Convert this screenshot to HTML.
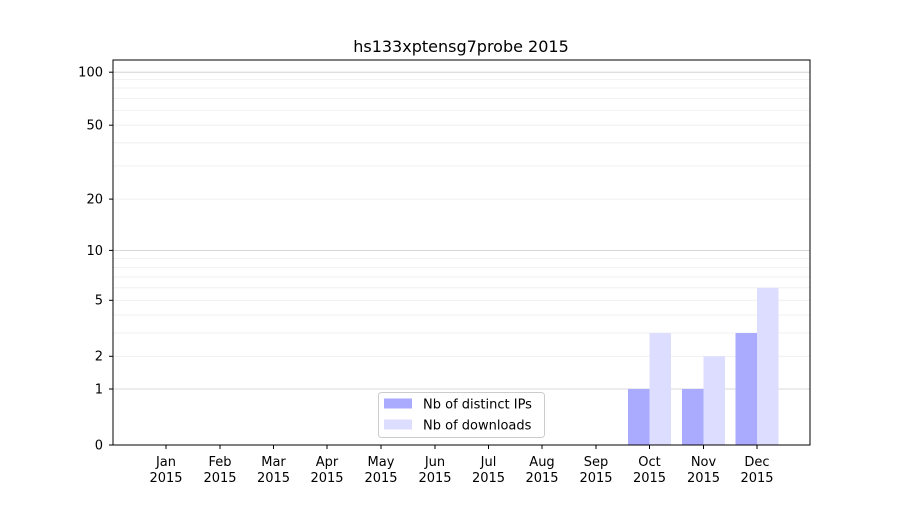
<!DOCTYPE html>
<html><head><meta charset="utf-8"><style>body{margin:0;background:#fff}</style></head><body>
<svg width="900" height="500" xmlns="http://www.w3.org/2000/svg" font-family="DejaVu Sans, Liberation Sans, sans-serif">
<rect width="900" height="500" fill="#fff"/>
<g id="grid" stroke-width="0.8">
<line x1="113" x2="810" y1="389" y2="389" stroke="#cccccc"/>
<line x1="113" x2="810" y1="250.4" y2="250.4" stroke="#cccccc"/>
<line x1="113" x2="810" y1="72.2" y2="72.2" stroke="#cccccc"/>
<g stroke="#eeeeee">
<line x1="113" x2="810" y1="356.3" y2="356.3"/>
<line x1="113" x2="810" y1="333" y2="333"/>
<line x1="113" x2="810" y1="315" y2="315"/>
<line x1="113" x2="810" y1="300.3" y2="300.3"/>
<line x1="113" x2="810" y1="287.8" y2="287.8"/>
<line x1="113" x2="810" y1="277" y2="277"/>
<line x1="113" x2="810" y1="267.5" y2="267.5"/>
<line x1="113" x2="810" y1="258.6" y2="258.6"/>
<line x1="113" x2="810" y1="199.1" y2="199.1"/>
<line x1="113" x2="810" y1="165.9" y2="165.9"/>
<line x1="113" x2="810" y1="142.8" y2="142.8"/>
<line x1="113" x2="810" y1="125.2" y2="125.2"/>
<line x1="113" x2="810" y1="110.6" y2="110.6"/>
<line x1="113" x2="810" y1="98.5" y2="98.5"/>
<line x1="113" x2="810" y1="88" y2="88"/>
<line x1="113" x2="810" y1="79.6" y2="79.6"/>
</g></g>
<g>
<rect x="628" y="389" width="21.5" height="56" fill="#aaaaff"/>
<rect x="649.5" y="333" width="21.5" height="112" fill="#ddddff"/>
<rect x="682" y="389" width="21.5" height="56" fill="#aaaaff"/>
<rect x="703.5" y="356.3" width="21.5" height="88.7" fill="#ddddff"/>
<rect x="735.5" y="333" width="21.5" height="112" fill="#aaaaff"/>
<rect x="757" y="287.8" width="21.5" height="157.2" fill="#ddddff"/>
</g>
<rect x="113" y="60" width="697" height="385" fill="none" stroke="#000" stroke-width="1"/>
<text x="461" y="52" font-size="16" text-anchor="middle">hs133xptensg7probe 2015</text>
<g font-size="13" text-anchor="end">
<text x="103" y="449.5">0</text><line x1="109" x2="113" y1="445" y2="445" stroke="#000"/>
<text x="103" y="393.5">1</text><line x1="109" x2="113" y1="389" y2="389" stroke="#000"/>
<text x="103" y="360.5">2</text><line x1="109" x2="113" y1="356.3" y2="356.3" stroke="#000"/>
<text x="103" y="304.5">5</text><line x1="109" x2="113" y1="300.3" y2="300.3" stroke="#000"/>
<text x="103" y="255">10</text><line x1="109" x2="113" y1="250.4" y2="250.4" stroke="#000"/>
<text x="103" y="203.5">20</text><line x1="109" x2="113" y1="199.1" y2="199.1" stroke="#000"/>
<text x="103" y="129.5">50</text><line x1="109" x2="113" y1="125.2" y2="125.2" stroke="#000"/>
<text x="103" y="76.5">100</text><line x1="109" x2="113" y1="72.2" y2="72.2" stroke="#000"/>
</g>
<g font-size="13" text-anchor="middle">
<g id="xt">
<text x="166" y="466">Jan</text><text x="166" y="482">2015</text>
<text x="220" y="466">Feb</text><text x="220" y="482">2015</text>
<text x="273.5" y="466">Mar</text><text x="273.5" y="482">2015</text>
<text x="327" y="466">Apr</text><text x="327" y="482">2015</text>
<text x="381" y="466">May</text><text x="381" y="482">2015</text>
<text x="435" y="466">Jun</text><text x="435" y="482">2015</text>
<text x="488.5" y="466">Jul</text><text x="488.5" y="482">2015</text>
<text x="542" y="466">Aug</text><text x="542" y="482">2015</text>
<text x="596" y="466">Sep</text><text x="596" y="482">2015</text>
<text x="649.5" y="466">Oct</text><text x="649.5" y="482">2015</text>
<text x="703.5" y="466">Nov</text><text x="703.5" y="482">2015</text>
<text x="757" y="466">Dec</text><text x="757" y="482">2015</text>
</g>
<g stroke="#000">
<line x1="166" x2="166" y1="445" y2="449"/><line x1="220" x2="220" y1="445" y2="449"/>
<line x1="273.5" x2="273.5" y1="445" y2="449"/><line x1="327" x2="327" y1="445" y2="449"/>
<line x1="381" x2="381" y1="445" y2="449"/><line x1="435" x2="435" y1="445" y2="449"/>
<line x1="488.5" x2="488.5" y1="445" y2="449"/><line x1="542" x2="542" y1="445" y2="449"/>
<line x1="596" x2="596" y1="445" y2="449"/><line x1="649.5" x2="649.5" y1="445" y2="449"/>
<line x1="703.5" x2="703.5" y1="445" y2="449"/><line x1="757" x2="757" y1="445" y2="449"/>
</g>
</g>
<rect x="378.5" y="392.5" width="166" height="45" rx="3" fill="#fff" fill-opacity="0.8" stroke="#cccccc"/>
<rect x="384" y="398.5" width="28" height="10" fill="#aaaaff"/>
<rect x="384" y="419.5" width="28" height="10" fill="#ddddff"/>
<g font-size="13"><text x="423" y="408.5">Nb of distinct IPs</text><text x="423" y="429.5">Nb of downloads</text></g>
</svg>
</body></html>
